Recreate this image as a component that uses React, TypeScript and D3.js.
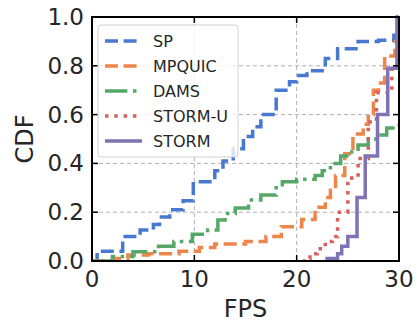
import * as d3 from 'd3'
import { useEffect, useRef } from 'react'

// step positions (FPS) and CDF levels
const spX = [0, 0.5, 3, 4.7, 6, 6.6, 7.6, 8.9, 9.9, 12, 12.8, 13.8, 14.8, 15.7, 16.5, 18, 19.3, 20, 21, 22.8, 24, 26, 28, 29.5, 30]
const spY = [0, 0.04, 0.1, 0.127, 0.15, 0.18, 0.21, 0.247, 0.325, 0.37, 0.41, 0.46, 0.51, 0.55, 0.6, 0.7, 0.735, 0.76, 0.78, 0.83, 0.87, 0.9, 0.905, 0.925, 1.0]

const mpX = [0, 2, 3.5, 5.5, 8.5, 10.5, 12, 15, 17, 18.5, 20.5, 21.8, 22.8, 23.3, 23.8, 24.7, 25.5, 26.5, 27, 27.5, 28, 28.6, 29.6, 30]
const mpY = [0, 0.01, 0.025, 0.03, 0.04, 0.055, 0.07, 0.08, 0.1, 0.14, 0.17, 0.22, 0.26, 0.29, 0.35, 0.44, 0.52, 0.56, 0.6, 0.7, 0.73, 0.84, 0.9, 1.0]

const damsX = [0.5, 2, 4, 6.5, 8, 9.8, 11.3, 12.3, 13, 14, 15.3, 16.5, 18, 18.6, 20, 21.8, 22.5, 23.3, 24.3, 25.2, 26, 27, 28, 28.8, 29.6, 30]
const damsY = [0, 0.018, 0.038, 0.06, 0.08, 0.11, 0.127, 0.168, 0.195, 0.217, 0.25, 0.27, 0.3, 0.325, 0.335, 0.35, 0.37, 0.4, 0.43, 0.447, 0.475, 0.5, 0.516, 0.545, 0.555, 0.56]

const stormuX = [20.6, 20.9, 21.3, 22, 22.8, 23.5, 24, 25, 26, 27, 27.8, 29.3, 29.9, 30]
const stormuY = [0, 0.01, 0.03, 0.05, 0.08, 0.1, 0.2, 0.34, 0.42, 0.57, 0.69, 0.8, 1.0, 1.0]

const stormX = [22.8, 24, 24.4, 25, 25.9, 26.7, 27.9, 28.9, 29.8, 30]
const stormY = [0.01, 0.03, 0.06, 0.1, 0.26, 0.43, 0.6, 0.79, 1.0, 1.0]

const names = ['SP', 'MPQUIC', 'DAMS', 'STORM-U', 'STORM']
const colors = ['#4878d0', '#ee854a', '#55a868', '#d65f5f', '#8172b3']
const dashes = ['13,5.6', '13,5.6', '22.4,5.6,3.5,5.6', '3.5,5.8', null]

const xTicks = [0, 10, 20, 30]
const yTicks = [0, 0.2, 0.4, 0.6, 0.8, 1.0]

export default function App() {
  const ref = useRef<SVGSVGElement>(null)

  useEffect(() => {
    const svg = d3.select(ref.current)
    svg.selectAll('*').remove()

    const left = 92, right = 399, top = 17, bottom = 261
    const x = d3.scaleLinear().domain([0, 30]).range([left, right])
    const y = d3.scaleLinear().domain([0, 1]).range([bottom, top])
    const font = 'DejaVu Sans'

    // grid
    const grid = svg.append('g')
    xTicks.slice(1, -1).forEach((t) => {
      grid.append('line').attr('x1', x(t)).attr('x2', x(t)).attr('y1', top).attr('y2', bottom)
        .attr('stroke', '#b0b0b0').attr('stroke-width', 1).attr('stroke-dasharray', '4,3')
    })
    yTicks.slice(1, -1).forEach((t) => {
      grid.append('line').attr('y1', y(t)).attr('y2', y(t)).attr('x1', left).attr('x2', right)
        .attr('stroke', '#b0b0b0').attr('stroke-width', 1).attr('stroke-dasharray', '4,3')
    })

    svg.append('clipPath').attr('id', 'plot').append('rect')
      .attr('x', left).attr('y', top - 2).attr('width', right - left).attr('height', bottom - top + 2)

    const series = [
      [spX, spY], [mpX, mpY], [damsX, damsY], [stormuX, stormuY], [stormX, stormY],
    ]
    const line = d3.line<[number, number]>()
      .x((d) => x(d[0])).y((d) => y(d[1])).curve(d3.curveStepAfter)

    const lines = svg.append('g').attr('clip-path', 'url(#plot)')
    series.forEach(([xs, ys], i) => {
      const pts = xs.map((v, j) => [v, ys[j]] as [number, number])
      const p = lines.append('path').datum(pts).attr('d', line)
        .attr('fill', 'none').attr('stroke', colors[i]).attr('stroke-width', 3.5)
      if (dashes[i]) p.attr('stroke-dasharray', dashes[i])
    })

    // frame and inward ticks
    svg.append('rect').attr('x', left).attr('y', top).attr('width', right - left).attr('height', bottom - top)
      .attr('fill', 'none').attr('stroke', '#000').attr('stroke-width', 2)
    xTicks.forEach((t) => {
      svg.append('line').attr('x1', x(t)).attr('x2', x(t)).attr('y1', bottom).attr('y2', bottom - 6).attr('stroke', '#000').attr('stroke-width', 1.5)
      svg.append('line').attr('x1', x(t)).attr('x2', x(t)).attr('y1', top).attr('y2', top + 6).attr('stroke', '#000').attr('stroke-width', 1.5)
      svg.append('text').attr('x', x(t)).attr('y', 287).attr('text-anchor', 'middle')
        .attr('font-family', font).attr('font-size', 23).attr('fill', '#262626').text(t)
    })
    yTicks.forEach((t) => {
      svg.append('line').attr('x1', left).attr('x2', left + 6).attr('y1', y(t)).attr('y2', y(t)).attr('stroke', '#000').attr('stroke-width', 1.5)
      svg.append('line').attr('x1', right).attr('x2', right - 6).attr('y1', y(t)).attr('y2', y(t)).attr('stroke', '#000').attr('stroke-width', 1.5)
      svg.append('text').attr('x', 84).attr('y', y(t) + 8).attr('text-anchor', 'end')
        .attr('font-family', font).attr('font-size', 23).attr('fill', '#262626').text(t.toFixed(1))
    })

    svg.append('text').attr('x', (left + right) / 2).attr('y', 317).attr('text-anchor', 'middle')
      .attr('font-family', font).attr('font-size', 24).attr('fill', '#262626').text('FPS')
    svg.append('text').attr('transform', `translate(33,${(top + bottom) / 2}) rotate(-90)`)
      .attr('text-anchor', 'middle').attr('font-family', font).attr('font-size', 24).attr('fill', '#262626').text('CDF')

    // legend
    const lg = svg.append('g')
    lg.append('rect').attr('x', 98).attr('y', 25).attr('width', 140).attr('height', 132).attr('rx', 3)
      .attr('fill', '#fff').attr('fill-opacity', 0.8).attr('stroke', '#d0d0d0').attr('stroke-width', 1)
    names.forEach((n, i) => {
      const yy = 41 + i * 25
      const l = lg.append('line').attr('x1', 105).attr('x2', 142).attr('y1', yy).attr('y2', yy)
        .attr('stroke', colors[i]).attr('stroke-width', 3.5)
      if (dashes[i]) l.attr('stroke-dasharray', dashes[i])
      lg.append('text').attr('x', 153).attr('y', yy + 6).attr('font-family', font).attr('font-size', 16)
        .attr('fill', '#262626').text(n)
    })
  }, [])

  return <svg ref={ref} width={418} height={323} style={{ display: 'block', position: 'absolute', left: 0, top: 0 }} />
}
